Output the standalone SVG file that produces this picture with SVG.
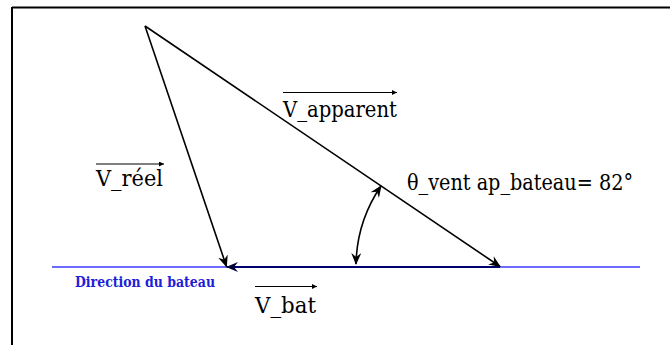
<svg xmlns="http://www.w3.org/2000/svg" width="670" height="345" viewBox="0 0 670 345">
<style>
.lbl{font-family:'DejaVu Serif',serif;font-size:22px;fill:#000}
.vec{stroke:#000;stroke-width:1.6;fill:none}
.ovl{stroke:#000;stroke-width:1.1;fill:none}
.dir{font-family:'DejaVu Serif',serif;font-size:14px;font-weight:bold;fill:#2020d8}
</style>
<defs>
<marker id="ah" viewBox="0 0 12 10" refX="11" refY="5" markerWidth="12" markerHeight="10" markerUnits="userSpaceOnUse" orient="auto-start-reverse">
<path d="M0,0 L12,5 L0,10 L4,5 Z" fill="#000"/>
</marker>
<marker id="ahb" viewBox="0 0 12 10" refX="11" refY="5" markerWidth="12" markerHeight="10" markerUnits="userSpaceOnUse" orient="auto">
<path d="M0,0 L12,5 L0,10 L4,5 Z" fill="#000030"/>
</marker>
<marker id="sm" viewBox="0 0 6 6" refX="6" refY="3" markerWidth="6" markerHeight="5" markerUnits="userSpaceOnUse" orient="auto">
<path d="M0,0 L6,3 L0,6 Z" fill="#000"/>
</marker>
</defs>
<g id="frame">
<line x1="12" y1="7.5" x2="670" y2="7.5" stroke="#000" stroke-width="2"/>
<line x1="12" y1="7" x2="12" y2="345" stroke="#000" stroke-width="2"/>
</g>
<g id="direction">
<line x1="52" y1="267" x2="640" y2="267" stroke="#3a3aff" stroke-width="1.4"/>
<text class="dir" x="75" y="287" textLength="140" lengthAdjust="spacingAndGlyphs">Direction du bateau</text>
</g>
<g id="connectors">
<line id="v_bat" x1="500" y1="267" x2="227" y2="267" stroke="#000070" stroke-width="2.2" marker-end="url(#ahb)"/>
<line id="v_reel" class="vec" x1="145" y1="26" x2="226.5" y2="266.5" marker-end="url(#ah)"/>
<line id="v_app" class="vec" x1="145" y1="26" x2="500" y2="266.5" marker-end="url(#ah)"/>
<path id="angle" class="vec" d="M381,186 A144,144 0 0 0 356,264" marker-start="url(#ah)" marker-end="url(#ah)"/>
</g>
<g id="lbl_apparent">
<line class="ovl" x1="283" y1="92.5" x2="397" y2="92.5" marker-end="url(#sm)"/>
<text class="lbl" x="283" y="117" textLength="114" lengthAdjust="spacingAndGlyphs">V_apparent</text>
</g>
<g id="lbl_reel">
<line class="ovl" x1="96" y1="164" x2="164" y2="164" marker-end="url(#sm)"/>
<text class="lbl" x="96" y="186" textLength="67" lengthAdjust="spacingAndGlyphs">V_réel</text>
</g>
<g id="lbl_bat">
<line class="ovl" x1="255" y1="286.5" x2="317" y2="286.5" marker-end="url(#sm)"/>
<text class="lbl" x="255" y="313" textLength="61" lengthAdjust="spacingAndGlyphs">V_bat</text>
</g>
<g id="lbl_angle">
<text class="lbl" x="407" y="190" textLength="226" lengthAdjust="spacingAndGlyphs">θ_vent ap_bateau= 82°</text>
</g>
</svg>
